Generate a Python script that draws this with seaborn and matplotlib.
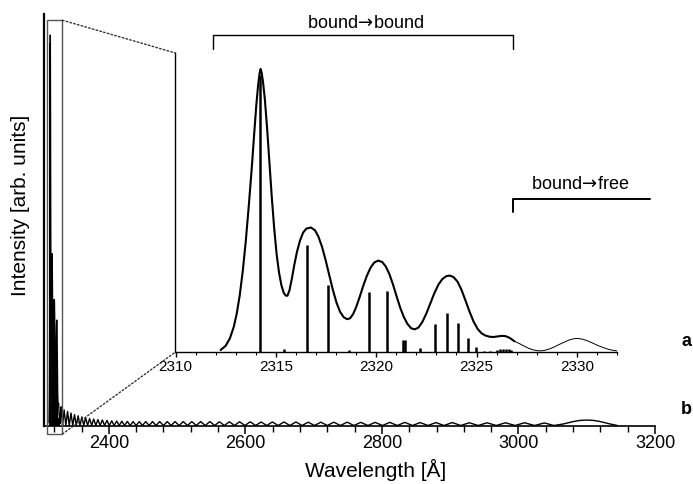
import matplotlib
matplotlib.use("Agg")
import matplotlib.pyplot as plt
import seaborn as sns
from matplotlib.lines import Line2D
from matplotlib.patches import Rectangle, ConnectionPatch
from matplotlib.ticker import MultipleLocator

sns.set_theme(style="white")
plt.rcParams["font.family"] = ["Liberation Sans", "DejaVu Sans"]
plt.rcParams["text.color"] = "black"
plt.rcParams["axes.labelcolor"] = "black"
plt.rcParams["xtick.color"] = "black"
plt.rcParams["mathtext.fontset"] = "dejavusans"

# ---------------- data ----------------
# envelope of the bound->bound region (thick part)
env_wl = [2312.25, 2312.50, 2312.71, 2312.90, 2313.05, 2313.20, 2313.35, 2313.50, 2313.65,
          2313.80, 2313.92, 2314.03, 2314.12, 2314.19, 2314.24, 2314.29, 2314.36, 2314.45,
          2314.56, 2314.68, 2314.80, 2314.92, 2315.04, 2315.16, 2315.28, 2315.40, 2315.50,
          2315.58, 2315.68, 2315.80, 2315.92, 2316.05, 2316.20, 2316.36, 2316.52, 2316.75,
          2316.95, 2317.12, 2317.30, 2317.48, 2317.66, 2317.84, 2318.02, 2318.20, 2318.38,
          2318.55, 2318.70, 2318.85, 2319.00, 2319.18, 2319.36, 2319.54, 2319.72, 2319.90,
          2320.10, 2320.30, 2320.48, 2320.66, 2320.84, 2321.02, 2321.20, 2321.38, 2321.56,
          2321.74, 2321.92, 2322.10, 2322.30, 2322.50, 2322.70, 2322.90, 2323.10, 2323.30,
          2323.50, 2323.66, 2323.85, 2324.05, 2324.25, 2324.45, 2324.65, 2324.85, 2325.05,
          2325.25, 2325.45, 2325.65, 2325.85, 2326.05, 2326.25, 2326.45, 2326.65, 2326.89]
env_I = [0.7, 2.2, 4.8, 8.8, 13.5, 20.0, 28.5, 39.0, 51.5,
         65.0, 77.0, 87.5, 94.5, 98.5, 100.0, 98.8, 95.5, 89.5,
         79.5, 67.0, 54.5, 43.5, 34.5, 28.0, 23.5, 20.8, 19.9,
         19.9, 21.8, 26.0, 30.8, 35.3, 39.3, 42.2, 43.6, 44.0,
         43.0, 40.8, 37.2, 32.5, 27.2, 22.0, 17.5, 14.2, 12.3,
         11.6, 11.9, 13.4, 15.8, 19.5, 23.5, 27.0, 29.8, 31.6,
         32.3, 31.8, 30.2, 27.5, 23.8, 19.6, 15.6, 12.3, 9.9,
         8.4, 8.0, 8.6, 10.6, 13.6, 17.2, 20.8, 23.8, 25.8,
         26.8, 27.0, 26.5, 24.9, 22.0, 18.2, 14.3, 10.8, 8.2,
         6.6, 5.8, 5.4, 5.3, 5.5, 5.7, 5.6, 5.0, 3.8]
# bound->free continuation (thin part)
free_wl = [2326.89, 2327.10, 2327.35, 2327.60, 2327.85, 2328.10, 2328.35, 2328.60, 2328.85,
           2329.10, 2329.35, 2329.60, 2329.85, 2330.05, 2330.30, 2330.55, 2330.80, 2331.05,
           2331.30, 2331.55, 2331.80, 2332.00]
free_I = [3.8, 3.1, 2.2, 1.3, 0.7, 0.4, 0.5, 1.0, 1.7,
          2.6, 3.4, 4.2, 4.7, 4.8, 4.5, 3.9, 3.1, 2.3,
          1.6, 1.0, 0.6, 0.4]

# stick spectrum
stick_wl = [2314.20, 2315.40, 2316.53, 2317.60, 2318.63, 2319.63, 2320.52, 2321.35, 2321.43,
            2322.16, 2322.91, 2323.54, 2324.10, 2324.60, 2324.99, 2325.35, 2325.65,
            2326.00, 2326.15, 2326.30, 2326.45, 2326.60, 2326.72]
stick_I = [98.0, 1.1, 37.8, 23.7, 0.7, 21.3, 21.6, 4.2, 4.2,
           1.3, 9.9, 13.9, 10.4, 5.1, 1.9, 0.5, 0.3,
           0.8, 0.9, 1.0, 1.0, 0.9, 0.7]

# long-wavelength oscillating continuum (main panel)
tail_wl = [2332.2, 2334.5, 2337.0, 2339.5, 2342.0, 2344.5, 2347.1, 2349.7, 2352.3, 2355.0,
           2357.7, 2360.5, 2363.2, 2366.0, 2368.9, 2371.8, 2374.8, 2377.8, 2380.9, 2384.0,
           2387.2, 2390.5, 2393.8, 2397.2, 2400.7, 2404.2, 2407.8, 2411.5, 2415.2, 2419.0,
           2423.0, 2427.0, 2431.2, 2435.5, 2440.0, 2444.5, 2449.2, 2454.0, 2459.0, 2464.0,
           2469.2, 2474.5, 2480.0, 2485.5, 2491.2, 2497.0, 2503.0, 2509.0, 2515.2, 2521.5,
           2528.0, 2534.5, 2541.2, 2548.0, 2555.0, 2562.0, 2569.2, 2576.5, 2584.0, 2591.5,
           2599.2, 2607.0, 2615.0, 2623.0, 2631.2, 2639.5, 2648.0, 2656.5, 2665.2, 2674.0,
           2683.0, 2692.0, 2701.2, 2710.5, 2720.0, 2729.5, 2739.2, 2749.0, 2759.0, 2769.0,
           2779.5, 2790.0, 2800.8, 2811.5, 2822.5, 2833.5, 2844.8, 2856.0, 2867.5, 2879.0,
           2891.0, 2903.0, 2915.5, 2928.0, 2941.0, 2954.0, 2967.5, 2981.0, 2995.0, 3009.0,
           3023.5, 3038.0, 3052.0, 3066.0, 3080.0, 3090.0, 3100.0, 3110.0, 3120.0, 3134.0,
           3145.0]
tail_I = [0.0, 4.0, 0.0, 3.6, 0.0, 3.2, 0.0, 2.8, 0.0, 2.5,
          0.0, 2.2, 0.0, 2.0, 0.0, 1.8, 0.0, 1.65, 0.0, 1.5,
          0.0, 1.4, 0.0, 1.3, 0.0, 1.2, 0.0, 1.15, 0.0, 1.1,
          0.0, 1.05, 0.0, 1.0, 0.0, 1.0, 0.0, 1.0, 0.0, 1.0,
          0.0, 1.0, 0.0, 1.0, 0.0, 1.0, 0.0, 1.0, 0.0, 1.0,
          0.0, 1.0, 0.0, 1.0, 0.0, 0.95, 0.0, 0.95, 0.0, 0.95,
          0.0, 0.95, 0.0, 0.9, 0.0, 0.9, 0.0, 0.9, 0.0, 0.9,
          0.0, 0.85, 0.0, 0.85, 0.0, 0.85, 0.0, 0.85, 0.0, 0.8,
          0.0, 0.8, 0.0, 0.8, 0.0, 0.8, 0.0, 0.75, 0.0, 0.75,
          0.0, 0.75, 0.0, 0.7, 0.0, 0.7, 0.0, 0.7, 0.0, 0.7,
          0.0, 0.65, 0.0, 0.4, 1.0, 1.3, 1.4, 1.3, 1.0, 0.4,
          0.0]

main_ticks = [2400, 2600, 2800, 3000, 3200]
inset_ticks = [2310, 2315, 2320, 2325, 2330]

# ---------------- figure ----------------
W, H = 693, 484
fig = plt.figure(figsize=(W / 100, H / 100), dpi=100)
fig.patch.set_facecolor("white")


def fx(x):
    return x / W


def fy(y):
    return 1 - y / H


ax = fig.add_axes([fx(44), fy(425.5), 611 / W, 411.5 / H])
axin = fig.add_axes([fx(175.5), fy(352), 441.5 / W, 299 / H])

for a in (ax, axin):
    a.set_facecolor("none")
    a.grid(False)
    for s in ("top", "right"):
        a.spines[s].set_visible(False)
    a.spines["left"].set_color("black")
    a.spines["bottom"].set_color("black")

# main panel
main_wl = env_wl + free_wl[1:] + tail_wl
main_I = env_I + free_I[1:] + tail_I
ax.vlines(stick_wl, 0, stick_I, color="black", lw=1.4)
sns.lineplot(x=main_wl, y=main_I, ax=ax, color="black", lw=1.0, sort=False, estimator=None)
ax.set_xlim(2305, 3200)
ax.set_ylim(0, 105.4)
ax.set_yticks([])
ax.spines["left"].set_linewidth(1.6)
ax.spines["bottom"].set_linewidth(1.2)
ax.set_xticks(main_ticks)
ax.set_xticklabels([str(t) for t in main_ticks])
ax.xaxis.set_minor_locator(MultipleLocator(40))
ax.tick_params(axis="x", which="major", direction="out", length=6, width=1.1,
               labelsize=13, pad=1.0, bottom=True, colors="black")
ax.tick_params(axis="x", which="minor", direction="out", length=4, width=1.0, bottom=True,
               colors="black")
ax.set_xlabel("")
ax.set_ylabel("")
fig.text(fx(376), fy(470), "Wavelength [Å]", ha="center", va="center", fontsize=15)
fig.text(fx(21), fy(205), "Intensity [arb. units]", ha="center", va="center",
         rotation=90, fontsize=15)

# zoom box on main panel
ax.add_patch(Rectangle((2310, -2.18), 22, 105.98, fill=False, edgecolor="#555555",
                       lw=1.0, clip_on=False, zorder=5))

# inset
axin.vlines(stick_wl, 0, stick_I, color="black", lw=1.8)
sns.lineplot(x=env_wl, y=env_I, ax=axin, color="black", lw=1.5, sort=False, estimator=None)
sns.lineplot(x=free_wl, y=free_I, ax=axin, color="black", lw=0.7, sort=False, estimator=None)
axin.set_xlim(2310, 2332)
axin.set_ylim(0, 105.65)
axin.set_yticks([])
axin.spines["left"].set_linewidth(1.0)
axin.spines["bottom"].set_linewidth(1.0)
axin.set_xticks(inset_ticks)
axin.set_xticklabels([str(t) for t in inset_ticks])
axin.xaxis.set_minor_locator(MultipleLocator(1))
axin.tick_params(axis="x", which="major", direction="out", length=3.5, width=1.0,
                 labelsize=11, pad=2, bottom=True, colors="black")
axin.tick_params(axis="x", which="minor", direction="out", length=2.2, width=0.8, bottom=True,
                 colors="black")
axin.set_xlabel("")
axin.set_ylabel("")

# dotted connectors
for xyA, xyB in (((2332, 103.8), (2310, 105.65)), ((2332, -2.18), (2310, 0))):
    con = ConnectionPatch(xyA=xyA, coordsA=ax.transData, xyB=xyB, coordsB=axin.transData,
                          linestyle=(0, (1.2, 1.6)), color="#333333", lw=1.0)
    fig.add_artist(con)


# brackets and labels
def fline(xs, ys, lw):
    fig.add_artist(Line2D([fx(v) for v in xs], [fy(v) for v in ys], color="black", lw=lw,
                          transform=fig.transFigure))


fline([213.3, 213.3, 513.3, 513.3], [48.5, 35, 35, 49], 1.0)
fig.text(fx(366), fy(23), r"bound$\!\rightarrow\!$bound", ha="center", va="center",
         fontsize=13)
fline([513.3, 513.3, 650], [211.7, 199, 199], 1.4)
fig.text(fx(580), fy(184), r"bound$\!\rightarrow\!$free", ha="center", va="center",
         fontsize=13)
fig.text(fx(686), fy(341), "a", ha="center", va="center", fontsize=13, fontweight="bold")
fig.text(fx(686), fy(409), "b", ha="center", va="center", fontsize=13, fontweight="bold")

fig.savefig("out.png", dpi=100)
